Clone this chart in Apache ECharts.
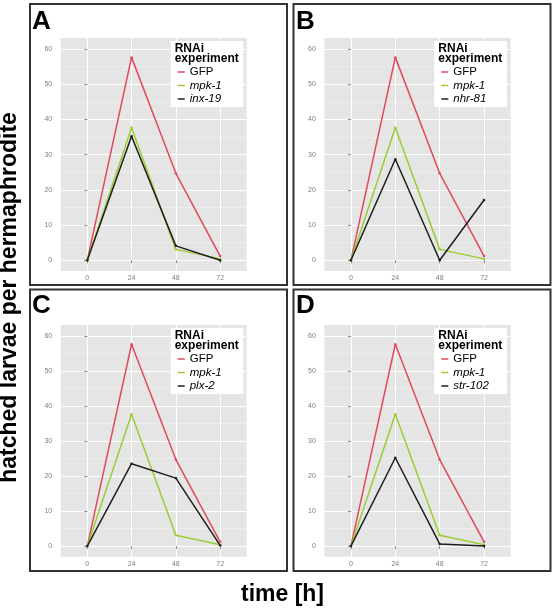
<!DOCTYPE html>
<html><head><meta charset="utf-8">
<script src="https://cdn.jsdelivr.net/npm/echarts@6/dist/echarts.min.js"></script>
<style>html,body{margin:0;padding:0;background:#fff}#c{width:558px;height:612px}</style>
</head><body><div id="c"></div>
<script>
// ---- data ----
const times = [0, 24, 48, 72];
const yTicks = [0, 10, 20, 30, 40, 50, 60];
const yMinorTicks = [5, 15, 25, 35, 45, 55];
const gfp = [0, 57.6, 24.7, 1.2];
const mpk1 = [0, 37.6, 3.1, 0.4];
const inx19 = [0, 35.2, 4.1, 0];
const nhr81 = [0, 28.7, 0, 17.1];
const plx2 = [0, 23.5, 19.4, 0.2];
const str102 = [0, 25.2, 0.6, 0];
const panelLetters = ['A', 'B', 'C', 'D'];
const thirdNames = ['inx-19', 'nhr-81', 'plx-2', 'str-102'];
const thirdValues = [inx19, nhr81, plx2, str102];
const legendTitle = 'RNAi\nexperiment';
const yTitle = 'hatched larvae per hermaphrodite';
const xTitle = 'time [h]';

// ---- layout / style ----
const FONT = '"Liberation Sans", Arial, sans-serif';
const colors = { GFP: '#E04A5C', 'mpk-1': '#9ACD32', third: '#1E1E1E' };
const grids = [
  { left: 60.7, top: 38, width: 186, height: 233 },
  { left: 324.3, top: 38, width: 186.4, height: 233 },
  { left: 60.7, top: 325, width: 186, height: 231.7 },
  { left: 324.3, top: 325, width: 186.4, height: 231.7 }
];
const frames = [
  { x: 30, y: 4, w: 257, h: 281 },
  { x: 293.5, y: 4, w: 257, h: 281 },
  { x: 30, y: 289.5, w: 257, h: 281.5 },
  { x: 293.5, y: 289.5, w: 257, h: 281.5 }
];
const letterPos = [[32, 21.5], [296, 21.5], [32, 306], [296, 306]];

const pairs = arr => times.map((t, k) => [t, arr[k]]);

const option = {
  animation: false,
  grid: [], xAxis: [], yAxis: [], series: [], legend: [], graphic: []
};

grids.forEach((g, i) => {
  option.grid.push(Object.assign({ show: true, backgroundColor: '#E5E5E5', borderWidth: 0 }, g));
  option.xAxis.push({
    gridIndex: i, type: 'value', min: -14.4, max: 86.4,
    axisLine: { show: false },
    axisTick: { show: true, length: 3, lineStyle: { color: '#8a8a8a', width: 1 }, customValues: times },
    axisLabel: { customValues: times, fontSize: 7, color: '#7f7f7f', margin: 4, fontFamily: FONT },
    splitLine: { show: true, lineStyle: { color: '#ffffff', width: 1 } }
  });
  option.yAxis.push({
    gridIndex: i, type: 'value', min: -3.04, max: 63.1,
    axisLine: { show: false },
    axisTick: { show: true, length: 3, lineStyle: { color: '#8a8a8a', width: 1 }, customValues: yTicks },
    axisLabel: { customValues: yTicks, fontSize: 7, color: '#7f7f7f', margin: 8.5, fontFamily: FONT },
    splitLine: { show: true, lineStyle: { color: '#ffffff', width: 1 } }
  });
  option.yAxis.push({
    gridIndex: i, type: 'value', min: -3.04, max: 63.1, position: 'left',
    axisLine: { show: false },
    axisTick: { show: false, customValues: yMinorTicks },
    axisLabel: { show: false },
    splitLine: { show: true, lineStyle: { color: '#F2F2F2', width: 0.6 } }
  });
  const seriesDefs = [
    ['GFP', gfp, colors.GFP],
    ['mpk-1', mpk1, colors['mpk-1']],
    [thirdNames[i], thirdValues[i], colors.third]
  ];
  seriesDefs.forEach(([name, vals, col]) => {
    option.series.push({
      type: 'line', name, xAxisIndex: i, yAxisIndex: 2 * i,
      data: pairs(vals), color: col,
      symbol: 'circle', symbolSize: 2.5,
      lineStyle: { width: 1.5, color: col },
      itemStyle: { color: col },
      z: 3
    });
  });
  const bx = g.left + 110, by = g.top + 3;
  option.graphic.push({
    type: 'rect', shape: { x: bx, y: by, width: 72.6, height: 66 },
    style: { fill: '#ffffff' }, z: 10
  });
  option.graphic.push({
    type: 'text', x: bx + 4, y: by + 2.5, z: 12,
    style: { text: legendTitle, font: 'bold 12px ' + FONT, fill: '#000', lineHeight: 10, verticalAlign: 'top' }
  });
  option.legend.push({
    data: seriesDefs.map(d => d[0]),
    left: bx + 7, top: by + 24.5, orient: 'vertical', padding: 0,
    icon: 'rect', itemWidth: 7, itemHeight: 1.5, itemGap: 0.5,
    selectedMode: false, z: 20,
    itemStyle: { borderWidth: 0 },
    formatter: n => n === 'GFP' ? n : '{i|' + n + '}',
    textStyle: {
      fontSize: 11.5, color: '#000', fontFamily: FONT, lineHeight: 13,
      rich: { i: { fontStyle: 'italic', fontSize: 11.5, color: '#000', fontFamily: FONT, lineHeight: 13 } }
    }
  });
});

frames.forEach((f, i) => {
  option.graphic.push({
    type: 'rect', shape: { x: f.x, y: f.y, width: f.w, height: f.h },
    style: { fill: 'none', stroke: '#333333', lineWidth: 2 }, z: 30
  });
  option.graphic.push({
    type: 'text', x: letterPos[i][0], y: letterPos[i][1], z: 30,
    style: { text: panelLetters[i], font: 'bold 26px ' + FONT, fill: '#000', verticalAlign: 'middle' }
  });
});

option.graphic.push({
  type: 'text', x: 10, y: 297.5, rotation: Math.PI / 2, z: 30,
  style: { text: yTitle, font: 'bold 23px ' + FONT, fill: '#000', align: 'center', verticalAlign: 'middle' }
});
option.graphic.push({
  type: 'text', x: 282.5, y: 595, z: 30,
  style: { text: xTitle, font: 'bold 23px ' + FONT, fill: '#000', align: 'center', verticalAlign: 'middle' }
});

const chart = echarts.init(document.getElementById('c'), null, { renderer: 'canvas' });
chart.setOption(option);
</script>
</body></html>
